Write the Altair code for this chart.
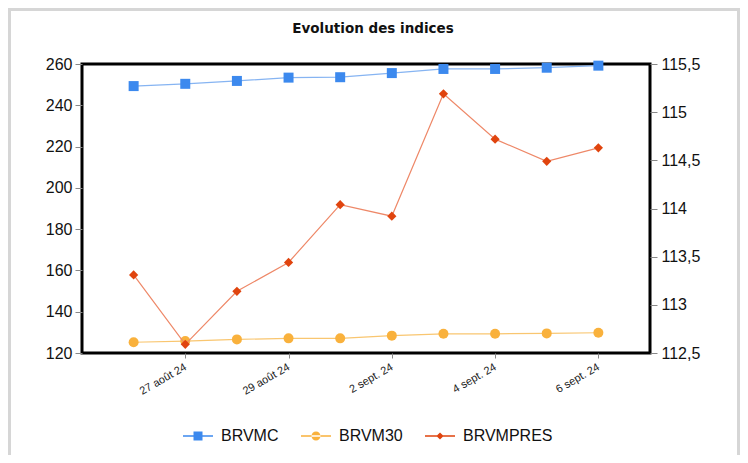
import altair as alt
import pandas as pd

dates = ["26 août 24", "27 août 24", "28 août 24", "29 août 24", "30 août 24",
         "2 sept. 24", "3 sept. 24", "4 sept. 24", "5 sept. 24", "6 sept. 24"]
tick_dates = ["27 août 24", "29 août 24", "2 sept. 24", "4 sept. 24", "6 sept. 24"]
brvmc = [249.3, 250.4, 251.8, 253.4, 253.6, 255.6, 257.6, 257.6, 258.2, 259.2]
brvm30 = [125.2, 125.8, 126.6, 127.1, 127.1, 128.4, 129.3, 129.3, 129.5, 129.8]
brvmpres = [113.31, 112.59, 113.14, 113.44, 114.04, 113.92, 115.19, 114.72, 114.49, 114.63]

series = ["BRVMC", "BRVM30", "BRVMPRES"]
marker_colors = ["#3c89ee", "#f9b13c", "#e0440e"]
line_colors = ["#86b4f2", "#f9c670", "#ee8868"]
left_ticks = [120, 140, 160, 180, 200, 220, 240, 260]
right_ticks = [112.5, 113, 113.5, 114, 114.5, 115, 115.5]

df = pd.DataFrame({"date": dates, "BRVMC": brvmc, "BRVM30": brvm30, "BRVMPRES": brvmpres})

xenc = alt.X("date:O", sort=dates, title=None,
             scale=alt.Scale(type="point", padding=1),
             axis=alt.Axis(values=tick_dates, labelAngle=-30, labelAlign="right",
                           labelBaseline="middle", labelFontSize=11, labelPadding=8,
                           tickSize=5, labelColor="#222222", tickColor="#888888",
                           domain=False, labelFont="Liberation Sans"))

yleft = alt.Scale(domain=[120, 260], nice=False, zero=False)
yright = alt.Scale(domain=[112.5, 115.5], nice=False, zero=False)

left_axis = alt.Axis(values=left_ticks, orient="left", grid=False, domain=False,
                     tickSize=7, tickColor="#888888", labelFontSize=16,
                     labelColor="#111111", labelPadding=3, labelFont="Liberation Sans")
right_axis = alt.Axis(values=right_ticks, orient="right", grid=False, domain=False,
                      tickSize=7, tickColor="#888888", labelFontSize=16,
                      labelColor="#111111", labelPadding=4, labelFont="Liberation Sans",
                      labelExpr="replace(toString(datum.value), '.', ',')")

base = alt.Chart(df)

l1 = base.mark_line(color=line_colors[0], strokeWidth=1.2).encode(
    x=xenc, y=alt.Y("BRVMC:Q", scale=yleft, axis=left_axis, title=None))
p1 = base.mark_point(shape="square", filled=True, size=100, opacity=1,
                     color=marker_colors[0]).encode(
    x=xenc, y=alt.Y("BRVMC:Q", scale=yleft, axis=left_axis, title=None))
l2 = base.mark_line(color=line_colors[1], strokeWidth=1.2).encode(
    x=xenc, y=alt.Y("BRVM30:Q", scale=yleft, axis=left_axis, title=None))
p2 = base.mark_point(shape="circle", filled=True, size=100, opacity=1,
                     color=marker_colors[1]).encode(
    x=xenc, y=alt.Y("BRVM30:Q", scale=yleft, axis=left_axis, title=None))

legend_shapes = [
    "M-1,-0.045H1V0.045H-1Z M-0.3,-0.3H0.3V0.3H-0.3Z",
    "M-1,-0.045H1V0.045H-1Z M-0.3,0A0.3,0.3 0 1,0 0.3,0A0.3,0.3 0 1,0 -0.3,0Z",
    "M-1,-0.045H1V0.045H-1Z M-0.24,0L0,-0.24L0.24,0L0,0.24Z",
]
legend_df = pd.DataFrame({"serie": series})
leg = alt.Chart(legend_df).mark_point(filled=True, opacity=1, size=900).encode(
    color=alt.Color("serie:N", scale=alt.Scale(domain=series, range=marker_colors),
                    legend=alt.Legend(title=None, orient="none", direction="horizontal",
                                      legendX=101, legendY=357, labelFontSize=16,
                                      labelFont="Liberation Sans", labelColor="#111111",
                                      symbolSize=900, symbolStrokeWidth=0,
                                      labelOffset=8, columnPadding=22)),
    shape=alt.Shape("serie:N", scale=alt.Scale(domain=series, range=legend_shapes)),
).transform_filter("false")

left = alt.layer(l1, l2, p1, p2, leg)

l3 = base.mark_line(color=line_colors[2], strokeWidth=1.2).encode(
    x=xenc, y=alt.Y("BRVMPRES:Q", scale=yright, axis=right_axis, title=None))
p3 = base.mark_point(shape="diamond", filled=True, size=85, opacity=1,
                     color=marker_colors[2]).encode(
    x=xenc, y=alt.Y("BRVMPRES:Q", scale=yright, axis=right_axis, title=None))
right = alt.layer(l3, p3)

border = alt.Chart(pd.DataFrame({"a": [0]})).mark_rect(
    fill=None, stroke="#d6d6d6", strokeWidth=3, filled=False).encode(
    x=alt.value(-72.5), x2=alt.value(656.5), y=alt.value(-54.5), y2=alt.value(400))

chart = alt.layer(left, right, border).resolve_scale(y="independent").properties(
    width=568, height=289,
    title=alt.TitleParams("Evolution des indices", font="DejaVu Sans", fontSize=13.5,
                          fontWeight="bold", color="#111111", anchor="middle",
                          dx=7, offset=-27),
    padding={"left": 74, "top": 56, "right": 90, "bottom": 102},
    autosize=alt.AutoSizeParams(type="none"),
).configure_view(stroke="#000000", strokeWidth=3)

chart.save("out.html", embed_options={"renderer": "svg", "actions": False})
